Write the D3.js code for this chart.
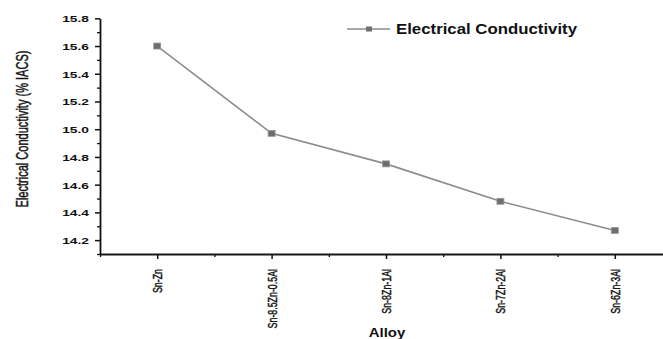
<!DOCTYPE html>
<html>
<head>
<meta charset="utf-8">
<script src="https://cdn.jsdelivr.net/npm/d3@7"></script>
<style>
  body { margin: 0; background: #fff; }
  svg { display: block; }
  text { font-family: "Liberation Sans", Arial, sans-serif; fill: #111; }
</style>
</head>
<body>
<figure id="chart" style="margin:0"></figure>
<script>
const alloys = ["Sn-Zn", "Sn-8.5Zn-0.5Al", "Sn-8Zn-1Al", "Sn-7Zn-2Al", "Sn-6Zn-3Al"];
const conductivity = [15.60, 14.97, 14.75, 14.48, 14.27];
const yTicks = [14.2, 14.4, 14.6, 14.8, 15.0, 15.2, 15.4, 15.6, 15.8];
const yMinorTicks = [14.1, 14.3, 14.5, 14.7, 14.9, 15.1, 15.3, 15.5, 15.7];
const xMinorTicks = [-0.5, 0.5, 1.5, 2.5, 3.5, 4.5];
const seriesName = "Electrical Conductivity";

const width = 663, height = 339;

const svg = d3.select("figure#chart")
  .append("svg")
  .attr("width", width)
  .attr("height", height);

svg.append("rect").attr("width", width).attr("height", height).attr("fill", "#fff");

// scales
const x = d3.scaleLinear().domain([-0.5, 4.5]).range([100, 672]);
const y = d3.scaleLinear().domain([14.1, 15.8]).range([254, 18.3]);

// minor ticks
svg.append("g")
  .attr("transform", "translate(100,0)")
  .call(d3.axisLeft(y).tickValues(yMinorTicks).tickSize(3).tickFormat(""))
  .call(g => g.select(".domain").remove())
  .selectAll("line").attr("stroke", "#111").attr("stroke-width", 1.3);

svg.append("g")
  .attr("transform", "translate(0,254)")
  .call(d3.axisBottom(x).tickValues(xMinorTicks).tickSize(3).tickFormat(""))
  .call(g => g.select(".domain").remove())
  .selectAll("line").attr("stroke", "#111").attr("stroke-width", 1.3);

// Y axis
const yAxis = svg.append("g")
  .attr("transform", "translate(100,0)")
  .call(d3.axisLeft(y).tickValues(yTicks).tickSize(5).tickSizeOuter(0).tickFormat(d3.format(".1f")));
yAxis.select(".domain").attr("stroke", "#111").attr("stroke-width", 1.8);
yAxis.selectAll(".tick line").attr("stroke", "#111").attr("stroke-width", 1.5);
yAxis.selectAll(".tick text")
  .attr("x", null)
  .attr("dy", "0.35em")
  .attr("transform", "translate(-11,0) scale(1.45,1)")
  .style("font-family", "'Liberation Sans', Arial, sans-serif")
  .style("font-size", "9.5px")
  .style("font-weight", "bold")
  .attr("fill", "#111");

// X axis
const xAxis = svg.append("g")
  .attr("transform", "translate(0,254)")
  .call(d3.axisBottom(x).tickValues(d3.range(alloys.length)).tickSize(5).tickSizeOuter(0)
    .tickFormat(i => alloys[i]));
xAxis.select(".domain").attr("stroke", "#1a1414").attr("stroke-width", 1.8);
xAxis.selectAll(".tick line").attr("stroke", "#111").attr("stroke-width", 1.5);
xAxis.selectAll(".tick text")
  .attr("y", null)
  .attr("dy", "0.35em")
  .attr("text-anchor", "end")
  .attr("transform", "translate(0,15) rotate(-90) scale(0.68,1)")
  .style("font-family", "'Liberation Sans', Arial, sans-serif")
  .style("font-size", "13px")
  .attr("fill", "#111")
  .attr("stroke", "#111")
  .attr("stroke-width", 0.45);

// axis titles
svg.append("text")
  .attr("transform", "translate(22,129) rotate(-90) scale(0.69,1)")
  .attr("text-anchor", "middle")
  .attr("dy", "0.35em")
  .style("font-size", "16px")
  .attr("stroke", "#111")
  .attr("stroke-width", 0.45)
  .text("Electrical Conductivity (% IACS)");

svg.append("text")
  .attr("transform", "translate(387,337) scale(1.15,1)")
  .attr("text-anchor", "middle")
  .style("font-size", "13px")
  .style("font-weight", "bold")
  .text("Alloy");

// line + markers
const line = d3.line()
  .x((d, i) => x(i))
  .y(d => y(d));

svg.append("path")
  .datum(conductivity)
  .attr("fill", "none")
  .attr("stroke", "#8c8c8c")
  .attr("stroke-width", 1.6)
  .attr("d", line);

svg.append("g")
  .selectAll("rect")
  .data(conductivity)
  .enter()
  .append("rect")
  .attr("x", (d, i) => x(i) - 3.5)
  .attr("y", d => y(d) - 3)
  .attr("width", 7)
  .attr("height", 6)
  .attr("fill", "#6e6e6e")
  .attr("stroke", "#9a9a9a")
  .attr("stroke-width", 0.8);

// legend
const legend = svg.append("g").attr("transform", "translate(347,29)");
legend.append("line")
  .attr("x1", 0).attr("x2", 43)
  .attr("stroke", "#8c8c8c").attr("stroke-width", 1.4);
legend.append("rect")
  .attr("x", 19).attr("y", -2.5).attr("width", 6).attr("height", 5)
  .attr("fill", "#6e6e6e");
legend.append("text")
  .attr("transform", "translate(49,5) scale(1.2,1)")
  .style("font-size", "14px")
  .style("font-weight", "bold")
  .text(seriesName);
</script>
</body>
</html>
